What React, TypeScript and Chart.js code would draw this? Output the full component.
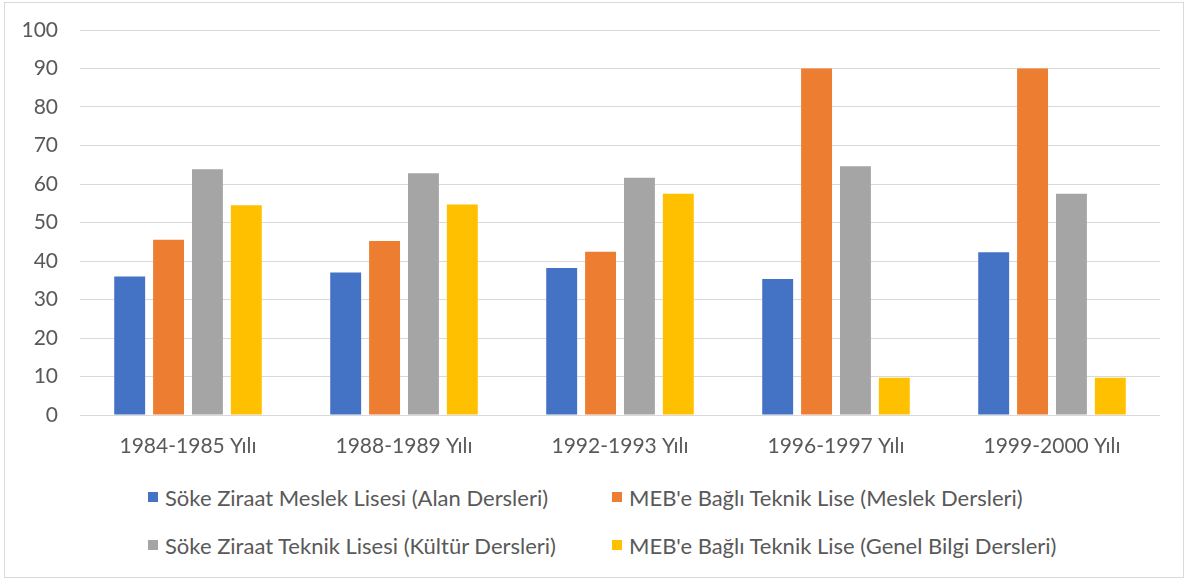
import React, { useEffect, useRef } from "react";
import { Chart, registerables } from "chart.js";

Chart.register(...registerables);

const categories = ["1984-1985 Yılı", "1988-1989 Yılı", "1992-1993 Yılı", "1996-1997 Yılı", "1999-2000 Yılı"];
const seriesNames = [
  "Söke Ziraat Meslek Lisesi (Alan Dersleri)",
  "MEB'e Bağlı Teknik Lise (Meslek Dersleri)",
  "Söke Ziraat Teknik Lisesi (Kültür Dersleri)",
  "MEB'e Bağlı Teknik Lise (Genel Bilgi Dersleri)",
];
const zirMeslekAlan = [36, 37, 38.2, 35.3, 42.3];
const mebMeslek = [45.5, 45.2, 42.4, 90, 90];
const zirTeknikKultur = [63.8, 62.8, 61.6, 64.6, 57.5];
const mebGenelBilgi = [54.5, 54.7, 57.5, 9.7, 9.7];
const colors = ["#4472C4", "#ED7D31", "#A5A5A5", "#FFC000"];
const yTicks = [0, 10, 20, 30, 40, 50, 60, 70, 80, 90, 100];

const FONT = "Lato, 'Noto Sans', sans-serif";

export default function App() {
  const ref = useRef<HTMLCanvasElement>(null);
  useEffect(() => {
    if (!ref.current) return;
    const values = [zirMeslekAlan, mebMeslek, zirTeknikKultur, mebGenelBilgi];
    const chart = new Chart(ref.current, {
      type: "bar",
      data: {
        labels: categories,
        datasets: values.map((v, i) => ({
          label: seriesNames[i],
          data: v,
          backgroundColor: colors[i],
          borderWidth: 0,
          barPercentage: 0.795,
          categoryPercentage: 0.72,
        })),
      },
      options: {
        responsive: false,
        animation: false,
        layout: { padding: { left: 0, right: 23, top: 27, bottom: 0 } },
        plugins: { legend: { display: false }, tooltip: { enabled: false } },
        scales: {
          x: {
            grid: { display: false, drawTicks: false },
            border: { display: false },
            ticks: { color: "#595959", font: { family: FONT, size: 21 }, padding: 19 },
            afterFit: (axis: any) => {
              axis.height = 58;
              axis.paddingLeft = 0;
              axis.paddingRight = 0;
            },
          },
          y: {
            min: 0,
            max: 100,
            afterBuildTicks: (axis: any) => {
              axis.ticks = yTicks.map((v) => ({ value: v }));
            },
            grid: { color: "#d9d9d9", lineWidth: 1, drawTicks: false },
            border: { display: false },
            ticks: { color: "#595959", font: { family: FONT, size: 21 }, padding: 22 },
            afterFit: (axis: any) => {
              axis.width = 75;
              axis.paddingTop = 0;
              axis.paddingBottom = 0;
            },
          },
        },
      },
    });
    return () => chart.destroy();
  }, []);

  const legendPos = [
    { x: 143, y: 494 },
    { x: 607, y: 494 },
    { x: 143, y: 542 },
    { x: 607, y: 542 },
  ];

  return (
    <div
      style={{
        position: "absolute",
        left: 4,
        top: 2,
        width: 1178,
        height: 574,
        border: "1px solid #d9d9d9",
        background: "#fff",
        fontFamily: FONT,
      }}
    >
      <canvas ref={ref} width={1178} height={470} style={{ position: "absolute", left: 0, top: 0 }} />
      {seriesNames.map((n, i) => (
        <div
          key={n}
          style={{
            position: "absolute",
            left: legendPos[i].x,
            top: legendPos[i].y - 13,
            height: 26,
            display: "flex",
            alignItems: "center",
            whiteSpace: "nowrap",
            color: "#595959",
            fontSize: 22,
          }}
        >
          <span style={{ display: "inline-block", width: 10, height: 10, background: colors[i], marginRight: 7 }} />
          <span>{n}</span>
        </div>
      ))}
    </div>
  );
}
